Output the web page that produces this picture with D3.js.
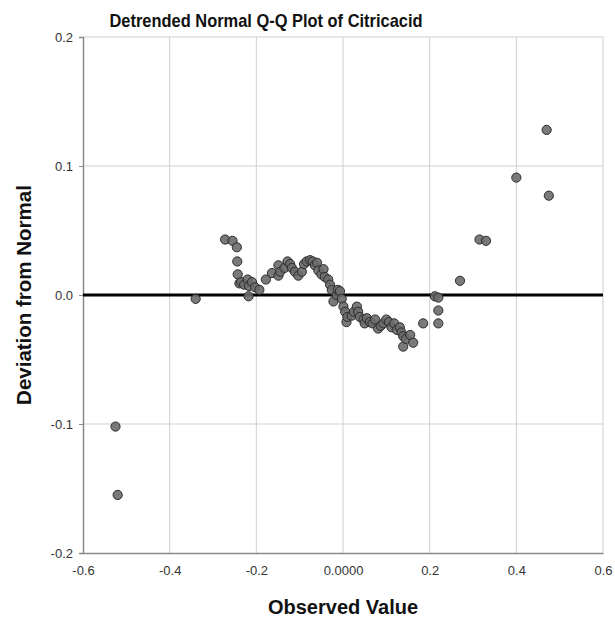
<!DOCTYPE html>
<html>
<head>
<meta charset="utf-8">
<script src="https://cdn.jsdelivr.net/npm/d3@7"></script>
<style>
  body { margin: 0; background: #fff; }
  svg text { font-family: "Liberation Sans", Arial, sans-serif; }
</style>
</head>
<body>
<svg id="chart" width="615" height="623"></svg>
<script>
const observed = [
  -0.525, -0.52, -0.34, -0.272, -0.255, -0.245, -0.244, -0.243, -0.239, -0.235,
  -0.228, -0.22, -0.217, -0.218, -0.21, -0.203, -0.193, -0.178, -0.164, -0.149,
  -0.149, -0.145, -0.135, -0.128, -0.122, -0.118, -0.111, -0.103, -0.095, -0.09,
  -0.084, -0.076, -0.07, -0.065, -0.06, -0.057, -0.05, -0.045, -0.042, -0.034,
  -0.03, -0.026, -0.022, -0.015, -0.012, -0.007, -0.003, 0.001, 0.005, 0.008,
  0.01, 0.02, 0.025, 0.032, 0.035, 0.039, 0.047, 0.05, 0.055, 0.062,
  0.068, 0.074, 0.081, 0.087, 0.093, 0.1, 0.106, 0.112, 0.118, 0.124,
  0.131, 0.135, 0.139, 0.139, 0.145, 0.155, 0.162, 0.185, 0.212, 0.22,
  0.22, 0.22, 0.27, 0.315, 0.33, 0.4, 0.47, 0.475
];
const deviation = [
  -0.102, -0.155, -0.003, 0.043, 0.042, 0.037, 0.026, 0.016, 0.009, 0.01,
  0.008, 0.012, 0.007, -0.001, 0.01, 0.006, 0.004, 0.012, 0.017, 0.015,
  0.023, 0.018, 0.021, 0.026, 0.024, 0.021, 0.018, 0.015, 0.018, 0.024,
  0.026, 0.027, 0.026, 0.023, 0.025, 0.019, 0.016, 0.02, 0.014, 0.012,
  0.008, 0.004, -0.005, 0.0, 0.004, 0.003, -0.003, -0.009, -0.013, -0.021,
  -0.017, -0.016, -0.013, -0.009, -0.013, -0.017, -0.019, -0.022, -0.018, -0.021,
  -0.022, -0.019, -0.026, -0.024, -0.022, -0.019, -0.021, -0.025, -0.022, -0.027,
  -0.025, -0.029, -0.032, -0.04, -0.034, -0.031, -0.037, -0.022, -0.001, -0.002,
  -0.012, -0.022, 0.011, 0.043, 0.042, 0.091, 0.128, 0.077
];
const xTicks = [-0.6, -0.4, -0.2, 0, 0.2, 0.4, 0.6];
const xTickLabels = ["-0.6", "-0.4", "-0.2", "0.0000", "0.2", "0.4", "0.6"];
const yTicks = [-0.2, -0.1, 0, 0.1, 0.2];
const yTickLabels = ["-0.2", "-0.1", "0.0", "0.1", "0.2"];

const svg = d3.select("#chart");
const plot = { left: 83, right: 603, top: 37, bottom: 553 };

const x = d3.scaleLinear().domain([-0.6, 0.6]).range([plot.left, plot.right]);
const y = d3.scaleLinear().domain([-0.2, 0.2]).range([plot.bottom, plot.top]);

// grid lines
svg.append("g").selectAll("line").data(xTicks.slice(1)).join("line")
  .attr("x1", d => x(d)).attr("x2", d => x(d))
  .attr("y1", plot.top).attr("y2", plot.bottom)
  .attr("stroke", "#cfcfcf").attr("stroke-width", 1);
svg.append("g").selectAll("line").data(yTicks.slice(1)).join("line")
  .attr("x1", plot.left).attr("x2", plot.right)
  .attr("y1", d => y(d)).attr("y2", d => y(d))
  .attr("stroke", "#cfcfcf").attr("stroke-width", 1);

// axes
const xAxis = d3.axisBottom(x).tickValues(xTicks).tickSize(0).tickPadding(13)
  .tickFormat((d, i) => xTickLabels[i]);
const gx = svg.append("g").attr("transform", `translate(0,${plot.bottom})`).call(xAxis);
gx.select(".domain").attr("stroke", "#8a8a8a").attr("stroke-width", 1.5);
gx.selectAll("text").attr("fill", "#333").style("font-size", "13px");

const yAxis = d3.axisLeft(y).tickValues(yTicks).tickSize(4).tickPadding(6)
  .tickFormat((d, i) => yTickLabels[i]);
const gy = svg.append("g").attr("transform", `translate(${plot.left},0)`).call(yAxis);
gy.select(".domain").attr("stroke", "#8a8a8a").attr("stroke-width", 1.5);
gy.selectAll(".tick line").attr("stroke", "#8a8a8a");
gy.selectAll("text").attr("fill", "#333").style("font-size", "13px");

// zero reference line
svg.append("line")
  .attr("x1", plot.left).attr("x2", plot.right)
  .attr("y1", y(0)).attr("y2", y(0))
  .attr("stroke", "#000").attr("stroke-width", 3);

// points
svg.append("g").selectAll("circle").data(observed).join("circle")
  .attr("cx", d => x(d))
  .attr("cy", (d, i) => y(deviation[i]))
  .attr("r", 4.6)
  .attr("fill", "#6b6b6b")
  .attr("fill-opacity", 0.9)
  .attr("stroke", "#2b2b2b")
  .attr("stroke-width", 1);

// titles
svg.append("text")
  .attr("x", 266).attr("y", 27)
  .attr("text-anchor", "middle")
  .attr("textLength", 313).attr("lengthAdjust", "spacingAndGlyphs")
  .style("font-size", "19px").style("font-weight", "bold")
  .attr("fill", "#111")
  .text("Detrended Normal Q-Q Plot of Citricacid");

svg.append("text")
  .attr("x", 343).attr("y", 614)
  .attr("text-anchor", "middle")
  .style("font-size", "20px").style("font-weight", "bold")
  .attr("fill", "#111")
  .text("Observed Value");

svg.append("text")
  .attr("transform", `translate(31,${y(0)}) rotate(-90)`)
  .attr("text-anchor", "middle")
  .style("font-size", "20.5px").style("font-weight", "bold")
  .attr("fill", "#111")
  .text("Deviation from Normal");
</script>
</body>
</html>
